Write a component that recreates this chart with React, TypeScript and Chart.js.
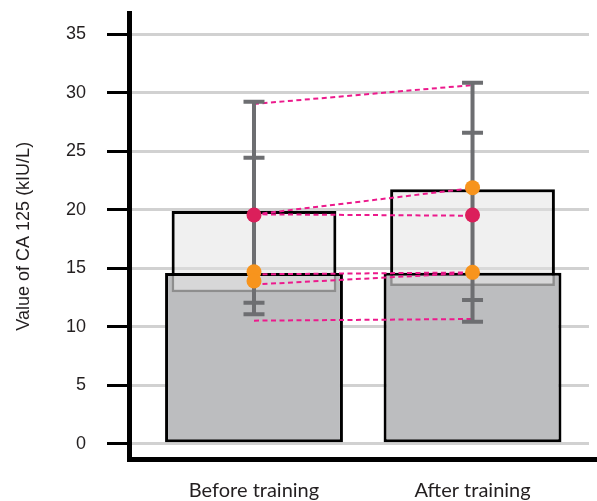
import React, { useEffect, useRef } from 'react';
import { Chart, registerables } from 'chart.js';

Chart.register(...registerables);

// ---- data ----
const categories = ['Before training', 'After training'];
const yTicks = [0, 5, 10, 15, 20, 25, 30, 35];
const darkBarValues = [14.6, 14.62];
const lightBarLow = [12.94, 13.48];
const lightBarHigh = [19.9, 21.75];
const beforeCaps = [11.06, 12.05, 24.45, 29.24];
const afterCaps = [10.43, 12.29, 26.59, 30.86];
const pairBefore = [29.04, 19.6, 19.61, 14.48, 13.61, 10.52];
const pairAfter = [30.66, 21.85, 19.49, 14.64, 14.6, 10.66];
const crimsonBefore = [19.55];
const crimsonAfter = [19.55];
const orangeBefore = [14.7, 13.91];
const orangeAfter = [21.89, 14.65];

const GREY = '#6d6e71';
const PINK = '#ec1a8c';
const TEXT = '#231f20';

const xy = (x: number, ys: number[]) => ys.map((y) => ({ x, y }));

const extendAxis = {
  id: 'extendAxis',
  afterDraw(chart: any) {
    const { ctx, chartArea } = chart;
    ctx.save();
    ctx.strokeStyle = '#000';
    ctx.lineWidth = 5;
    ctx.beginPath();
    ctx.moveTo(chartArea.right - 1, chartArea.bottom);
    ctx.lineTo(chart.width, chartArea.bottom);
    ctx.stroke();
    ctx.restore();
  },
};

export default function App() {
  const ref = useRef<HTMLCanvasElement | null>(null);

  useEffect(() => {
    if (!ref.current) return;
    const datasets: any[] = [
      {
        type: 'line',
        data: [...xy(0, crimsonBefore), ...xy(1, crimsonAfter)],
        showLine: false,
        pointRadius: 7.5,
        pointBackgroundColor: '#db1f5b',
        pointBorderWidth: 0,
        order: 0,
      },
      {
        type: 'line',
        data: [...xy(0, orangeBefore), ...xy(1, orangeAfter)],
        showLine: false,
        pointRadius: 7.5,
        pointBackgroundColor: '#f7941d',
        pointBorderWidth: 0,
        order: 0,
      },
      {
        type: 'line',
        data: [...xy(0, beforeCaps), ...xy(1, afterCaps)],
        showLine: false,
        pointStyle: 'line',
        pointRadius: 10.5,
        pointBorderWidth: 4,
        pointBorderColor: GREY,
        order: 1,
      },
      {
        type: 'line',
        data: xy(0, [Math.min(...beforeCaps), Math.max(...beforeCaps)]),
        borderColor: GREY,
        borderWidth: 4,
        pointRadius: 0,
        order: 2,
      },
      {
        type: 'line',
        data: xy(1, [Math.min(...afterCaps), Math.max(...afterCaps)]),
        borderColor: GREY,
        borderWidth: 4,
        pointRadius: 0,
        order: 2,
      },
      ...pairBefore.map((b, i) => ({
        type: 'line',
        data: [
          { x: 0, y: b },
          { x: 1, y: pairAfter[i] },
        ],
        borderColor: PINK,
        borderWidth: 2,
        borderDash: [5, 3.5],
        pointRadius: 0,
        order: 3,
      })),
      {
        type: 'bar',
        grouped: false,
        data: categories.map((_, i) => ({ x: i, y: [lightBarLow[i], darkBarValues[i] - 0.27] })),
        backgroundColor: 'rgba(255,255,255,0.4)',
        borderColor: '#8e8e8e',
        borderWidth: 2.5,
        borderSkipped: 'top',
        barPercentage: 0.754,
        categoryPercentage: 1,
        order: 4,
      },
      {
        type: 'bar',
        grouped: false,
        data: categories.map((_, i) => ({ x: i, y: darkBarValues[i] })),
        backgroundColor: '#bcbdbf',
        borderColor: '#000',
        borderWidth: 3,
        borderSkipped: false,
        barPercentage: 0.814,
        categoryPercentage: 1,
        order: 5,
      },
      {
        type: 'bar',
        grouped: false,
        data: categories.map((_, i) => ({ x: i, y: [lightBarLow[i], lightBarHigh[i]] })),
        backgroundColor: 'rgba(225,225,225,0.5)',
        borderColor: '#000',
        borderWidth: 3,
        borderSkipped: false,
        barPercentage: 0.754,
        categoryPercentage: 1,
        order: 6,
      },
    ];

    const chart = new Chart(ref.current, {
      type: 'bar',
      data: { datasets },
      options: {
        animation: false,
        responsive: false,
        devicePixelRatio: 1,
        events: [],
        layout: { autoPadding: false, padding: { top: 13, right: 8, left: 0, bottom: 0 } },
        plugins: { legend: { display: false }, tooltip: { enabled: false } },
        scales: {
          x: {
            type: 'linear',
            offset: false,
            min: -0.572,
            max: 1.533,
            grid: { display: false, drawTicks: false, offset: false },
            border: { display: true, color: '#000', width: 5 },
            afterBuildTicks: (s: any) => {
              s.ticks = categories.map((_, i) => ({ value: i }));
            },
            afterFit: (s: any) => {
              s.height = 41.5;
              s.paddingLeft = 0;
              s.paddingRight = 0;
            },
            ticks: {
              autoSkip: false,
              maxRotation: 0,
              padding: 19,
              color: TEXT,
              font: { family: 'Lato', size: 20 },
              callback: (v: any) => categories[v] ?? '',
            },
          },
          y: {
            type: 'linear',
            min: -1.35,
            max: 36.82,
            afterBuildTicks: (s: any) => {
              s.ticks = yTicks.map((v) => ({ value: v }));
            },
            afterFit: (s: any) => {
              s.width = 129;
              s.paddingTop = 0;
              s.paddingBottom = 0;
            },
            grid: {
              color: '#d1d1d1',
              lineWidth: 3,
              tickColor: '#000',
              tickWidth: 3,
              tickLength: 22,
            },
            border: { display: true, color: '#000', width: 5 },
            ticks: {
              padding: 21,
              color: TEXT,
              font: { family: '"Liberation Sans", Arial, sans-serif', size: 18 },
            },
            title: {
              display: true,
              text: 'Value of CA 125 (kIU/L)',
              color: TEXT,
              font: { family: '"Liberation Sans", Arial, sans-serif', size: 18 },
              padding: { top: 13, bottom: 0 },
            },
          },
        },
      } as any,
      plugins: [extendAxis],
    });
    return () => chart.destroy();
  }, []);

  return (
    <div style={{ position: 'fixed', left: 0, top: 0, width: 597, height: 501 }}>
      <canvas ref={ref} width={597} height={501} />
    </div>
  );
}
